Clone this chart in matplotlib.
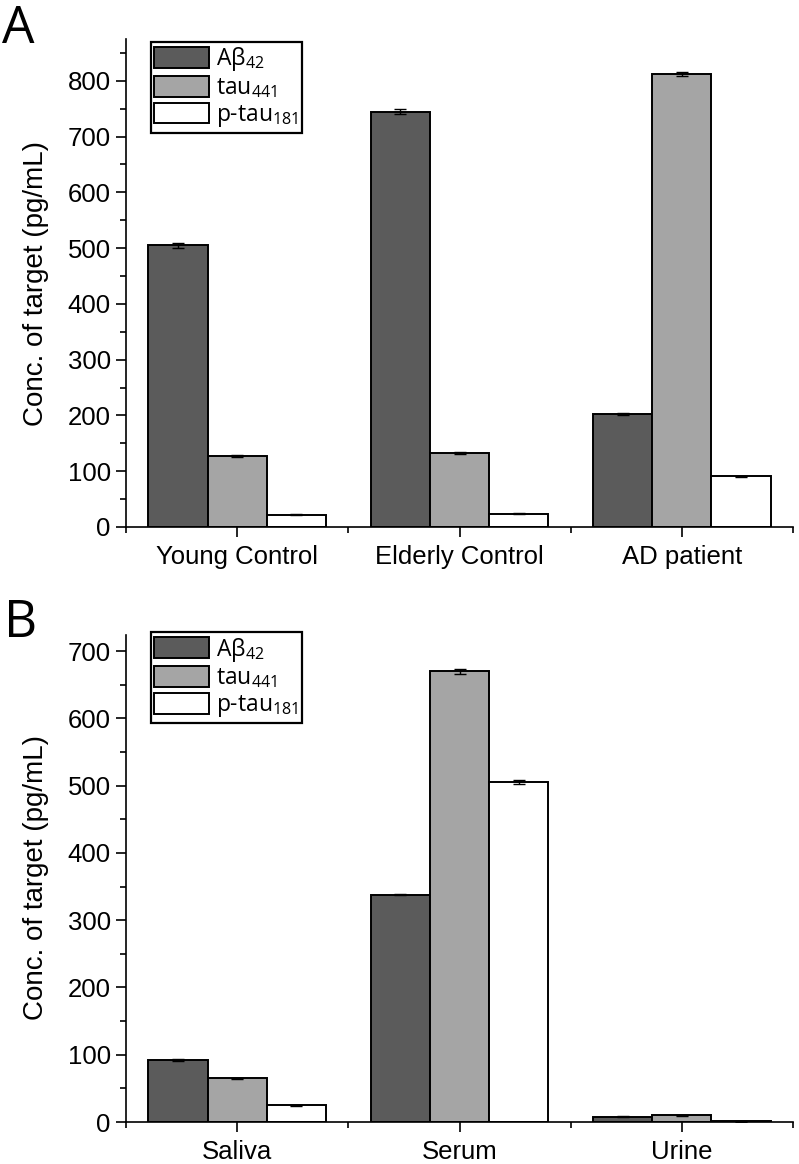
import matplotlib
matplotlib.use("Agg")
import matplotlib.pyplot as plt
import numpy as np
from matplotlib.ticker import MultipleLocator, FixedLocator

plt.rcParams['mathtext.fontset'] = 'custom'
plt.rcParams['mathtext.rm'] = 'Open Sans'
plt.rcParams['mathtext.it'] = 'Open Sans'

series_labels = ["Aβ$_{42}$", "tau$_{441}$", "p-tau$_{181}$"]
series_colors = ["#5b5b5b", "#a5a5a5", "#ffffff"]

cats_a = ["Young Control", "Elderly Control", "AD patient"]
abeta_a = [505, 745, 203]
tau_a = [127, 132, 812]
ptau_a = [22, 24, 91]
abeta_a_err = [5, 5, 2]
tau_a_err = [2, 2, 4]
ptau_a_err = [1, 1, 1]

cats_b = ["Saliva", "Serum", "Urine"]
abeta_b = [92, 338, 8]
tau_b = [65, 670, 10]
ptau_b = [25, 505, 1]
abeta_b_err = [1, 1, 0.5]
tau_b_err = [1, 4, 0.5]
ptau_b_err = [1, 3, 0.5]

W, H = 799, 1164
fig = plt.figure(figsize=(W / 100, H / 100), dpi=100)

def fx(px):
    return px / W

def fy(py):
    return 1 - py / H

tick_font = dict(family="Liberation Sans", size=18.5)

def draw(ax, cats, vals, errs, ylim, ymajor, legend_top):
    n = len(vals)
    width = 0.8 / n
    x = np.arange(1, len(cats) + 1)
    for i, (v, e) in enumerate(zip(vals, errs)):
        pos = x + (i - (n - 1) / 2) * width
        ax.bar(pos, v, width=width, color=series_colors[i], edgecolor="black",
               linewidth=1.4, label=series_labels[i], zorder=2)
        ax.errorbar(pos, v, yerr=e, fmt="none", ecolor="black", elinewidth=1.0,
                    capsize=4, capthick=1.0, zorder=3)
    ax.set_xlim(0.5, len(cats) + 0.5)
    ax.set_ylim(*ylim)
    ax.spines["top"].set_visible(False)
    ax.spines["right"].set_visible(False)
    for s in ["left", "bottom"]:
        ax.spines[s].set_linewidth(1.2)
    ax.set_xticks(x)
    ax.set_xticklabels(cats, fontdict=tick_font)
    ax.xaxis.set_minor_locator(FixedLocator(np.arange(0.5, len(cats) + 1, 1.0)))
    ax.yaxis.set_major_locator(MultipleLocator(ymajor))
    ax.yaxis.set_minor_locator(MultipleLocator(ymajor / 2))
    ax.tick_params(axis="both", which="major", length=7, width=1.2, direction="out")
    ax.tick_params(axis="both", which="minor", length=4, width=1.2, direction="out")
    ax.tick_params(axis="y", which="major", pad=4, labelsize=18.5)
    ax.tick_params(axis="x", which="major", pad=6)
    for lab in ax.get_yticklabels():
        lab.set_fontfamily("Liberation Sans")
        lab.set_fontsize(18.5)
    leg = ax.legend(loc="upper left", bbox_to_anchor=(0.0375, legend_top),
                    prop=dict(family="Open Sans", size=16.5), frameon=True,
                    fancybox=False, framealpha=1.0, handlelength=2.4,
                    handleheight=1.0, labelspacing=0.12, borderpad=0.15,
                    handletextpad=0.3, borderaxespad=0.0)
    leg.get_frame().set_edgecolor("black")
    leg.get_frame().set_linewidth(1.6)

axA = fig.add_axes([fx(126), fy(527), fx(793) - fx(126), fy(39) - fy(527)])
draw(axA, cats_a, [abeta_a, tau_a, ptau_a], [abeta_a_err, tau_a_err, ptau_a_err],
     (0, 875), 100, 0.994)

axB = fig.add_axes([fx(126), fy(1122), fx(793) - fx(126), fy(635) - fy(1122)])
draw(axB, cats_b, [abeta_b, tau_b, ptau_b], [abeta_b_err, tau_b_err, ptau_b_err],
     (0, 724), 100, 1.006)

ylab = "Conc. of target (pg/mL)"
fig.text(fx(36), fy(283), ylab, rotation=90, ha="center", va="center",
         family="Liberation Sans", size=20)
fig.text(fx(36), fy(878), ylab, rotation=90, ha="center", va="center",
         family="Liberation Sans", size=20)

fig.text(fx(2), fy(43), "A", family="Open Sans", size=37, ha="left", va="baseline")
fig.text(fx(4), fy(637), "B", family="Open Sans", size=37, ha="left", va="baseline")

fig.savefig("out.png", dpi=100)
